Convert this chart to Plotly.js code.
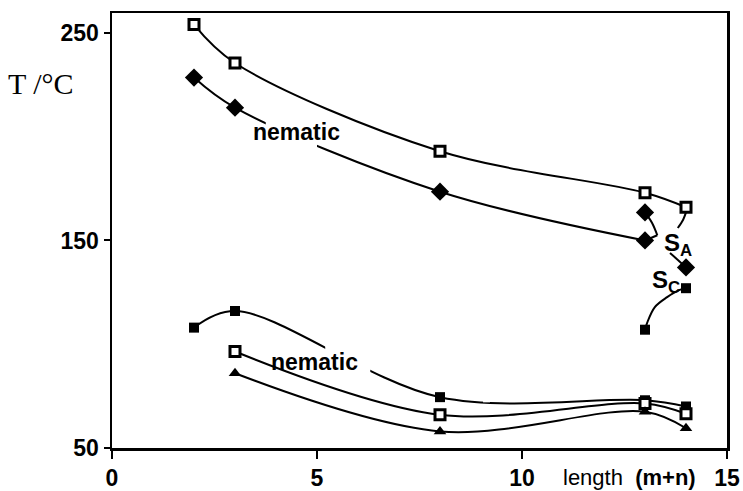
<!DOCTYPE html>
<html>
<head>
<meta charset="utf-8">
<script src="https://cdn.plot.ly/plotly-3.0.1.min.js"></script>
<style>html,body{margin:0;padding:0;background:#fff}#chart{width:743px;height:491px}</style>
</head>
<body>
<div id="chart"></div>
<script>
// Data (x: chain length m+n, y: temperature / °C)
const lengthA = [2, 3, 8, 13, 14];
const tempA   = [254, 235.5, 193, 173, 166];          // open squares, upper

const lengthB = [2, 3, 8, 13];
const tempB   = [228.5, 214, 173.5, 150];             // filled diamonds
const lengthBsa = [13, 14];
const tempBsa   = [163.5, 137];                       // filled diamonds near S_A

const lengthC = [2, 3, 8, 13, 14];
const tempC   = [108, 116, 74.5, 73, 70];             // filled squares, lower
const lengthCsc = [13, 14];
const tempCsc   = [107, 127];                         // filled squares near S_C

const lengthD = [3, 8, 13, 14];
const tempD   = [96.5, 66, 71.5, 66.5];               // open squares, lower

const lengthE = [3, 8, 13, 14];
const tempE   = [86, 58, 67.5, 59.5];                 // filled triangles

// phase boundary curves
const saLen1 = [13, 13.17, 13.3, null, 13, 13.3];
const saTemp1 = [163.5, 158.5, 152.5, null, 150, 152.5];
const saLen2 = [13.61, 13.93];
const saTemp2 = [144, 138.3];
const saLen3 = [14, 13.93, 13.8];
const saTemp3 = [163.5, 160, 156];
const scLen = [13, 13.05, 13.24, 13.54, 13.83, 14];
const scTemp = [107, 110.2, 117.9, 122.7, 126.1, 127];

const xTicks = [0, 5, 10, 15];
const yTicks = [50, 150, 250];

const lineStyle = {color: 'black', width: 2, shape: 'spline', smoothing: 1};
const openSq = {symbol: 'square', size: 10, color: 'white', line: {color: 'black', width: 3}};
const fillSq = {symbol: 'square', size: 10, color: 'black', line: {color: 'black', width: 0}};
const diamond = {symbol: 'diamond', size: 14, color: 'black', line: {color: 'black', width: 0}};
const tri = {symbol: 'triangle-up', size: 11, color: 'black', line: {color: 'black', width: 0}};

const traces = [
  {x: lengthA, y: tempA, mode: 'lines+markers', line: lineStyle, marker: openSq},
  {x: lengthB, y: tempB, mode: 'lines+markers', line: lineStyle, marker: diamond},
  {x: lengthC, y: tempC, mode: 'lines+markers', line: lineStyle, marker: fillSq},
  {x: lengthD, y: tempD, mode: 'lines+markers', line: lineStyle, marker: openSq},
  {x: lengthE, y: tempE, mode: 'lines+markers', line: lineStyle, marker: tri},
  {x: saLen1, y: saTemp1, mode: 'lines', line: lineStyle, connectgaps: false},
  {x: saLen2, y: saTemp2, mode: 'lines', line: lineStyle},
  {x: saLen3, y: saTemp3, mode: 'lines', line: lineStyle},
  {x: scLen, y: scTemp, mode: 'lines', line: lineStyle},
  {x: lengthBsa, y: tempBsa, mode: 'markers', marker: diamond},
  {x: lengthCsc, y: tempCsc, mode: 'markers', marker: fillSq}
].map(t => Object.assign({showlegend: false, hoverinfo: 'skip'}, t));

const bold = {family: 'Liberation Sans, Arial, sans-serif', size: 23, color: 'black', weight: 'bold'};

const layout = {
  width: 743, height: 491,
  margin: {l: 112, r: 16, t: 13, b: 43},
  paper_bgcolor: 'white', plot_bgcolor: 'white',
  showlegend: false,
  xaxis: {
    range: [0, 15], tickvals: xTicks, ticktext: xTicks.map(String),
    ticks: 'outside', ticklen: 8, tickwidth: 2, tickcolor: 'black',
    showline: true, linewidth: 2.5, linecolor: 'black', mirror: true,
    showgrid: false, zeroline: false, tickfont: bold
  },
  yaxis: {
    range: [50, 259.6], tickvals: yTicks, ticktext: yTicks.map(String),
    ticks: 'outside', ticklen: 6, tickwidth: 2, tickcolor: 'black',
    showline: true, linewidth: 2.5, linecolor: 'black', mirror: true,
    showgrid: false, zeroline: false, tickfont: bold
  },
  shapes: [
    {type: 'rect', xref: 'x', yref: 'y', x0: 3.75, x1: 5.0, y0: 193, y1: 212, fillcolor: 'white', line: {width: 0}, layer: 'above'},
    {type: 'rect', xref: 'x', yref: 'y', x0: 5.2, x1: 6.3, y0: 86.6, y1: 104.5, fillcolor: 'white', line: {width: 0}, layer: 'above'},
    {type: 'rect', xref: 'x', yref: 'y', x0: 9.05, x1: 9.22, y0: 72, y1: 77.5, fillcolor: 'white', line: {width: 0}, layer: 'above'}
  ],
  annotations: [
    {text: 'T /°C', xref: 'paper', yref: 'paper', x: -0.1154, y: 0.839, showarrow: false,
     xanchor: 'center', yanchor: 'middle', font: {family: 'Liberation Serif, Times New Roman, serif', size: 30, color: 'black'}},
    {text: 'length  <b>(m+n)</b>', xref: 'paper', yref: 'paper', x: 0.953, y: -0.0667, showarrow: false,
     xanchor: 'right', yanchor: 'middle', font: {family: 'Liberation Sans, Arial, sans-serif', size: 22, color: 'black'}},
    {text: '<b>nematic</b>', xref: 'x', yref: 'y', x: 4.51, y: 202.3, showarrow: false,
     xanchor: 'center', yanchor: 'middle', font: {family: 'Liberation Sans, Arial, sans-serif', size: 23, color: 'black'}},
    {text: '<b>nematic</b>', xref: 'x', yref: 'y', x: 4.95, y: 91.4, showarrow: false,
     xanchor: 'center', yanchor: 'middle', font: {family: 'Liberation Sans, Arial, sans-serif', size: 23, color: 'black'}},
    {text: '<b>S<sub>A</sub></b>', xref: 'x', yref: 'y', x: 13.8, y: 148, showarrow: false,
     xanchor: 'center', yanchor: 'middle', font: {family: 'Liberation Sans, Arial, sans-serif', size: 24, color: 'black'}},
    {text: '<b>S<sub>C</sub></b>', xref: 'x', yref: 'y', x: 13.5, y: 130, showarrow: false,
     xanchor: 'center', yanchor: 'middle', font: {family: 'Liberation Sans, Arial, sans-serif', size: 24, color: 'black'}}
  ]
};

Plotly.newPlot('chart', traces, layout, {staticPlot: true, displayModeBar: false});
</script>
</body>
</html>
